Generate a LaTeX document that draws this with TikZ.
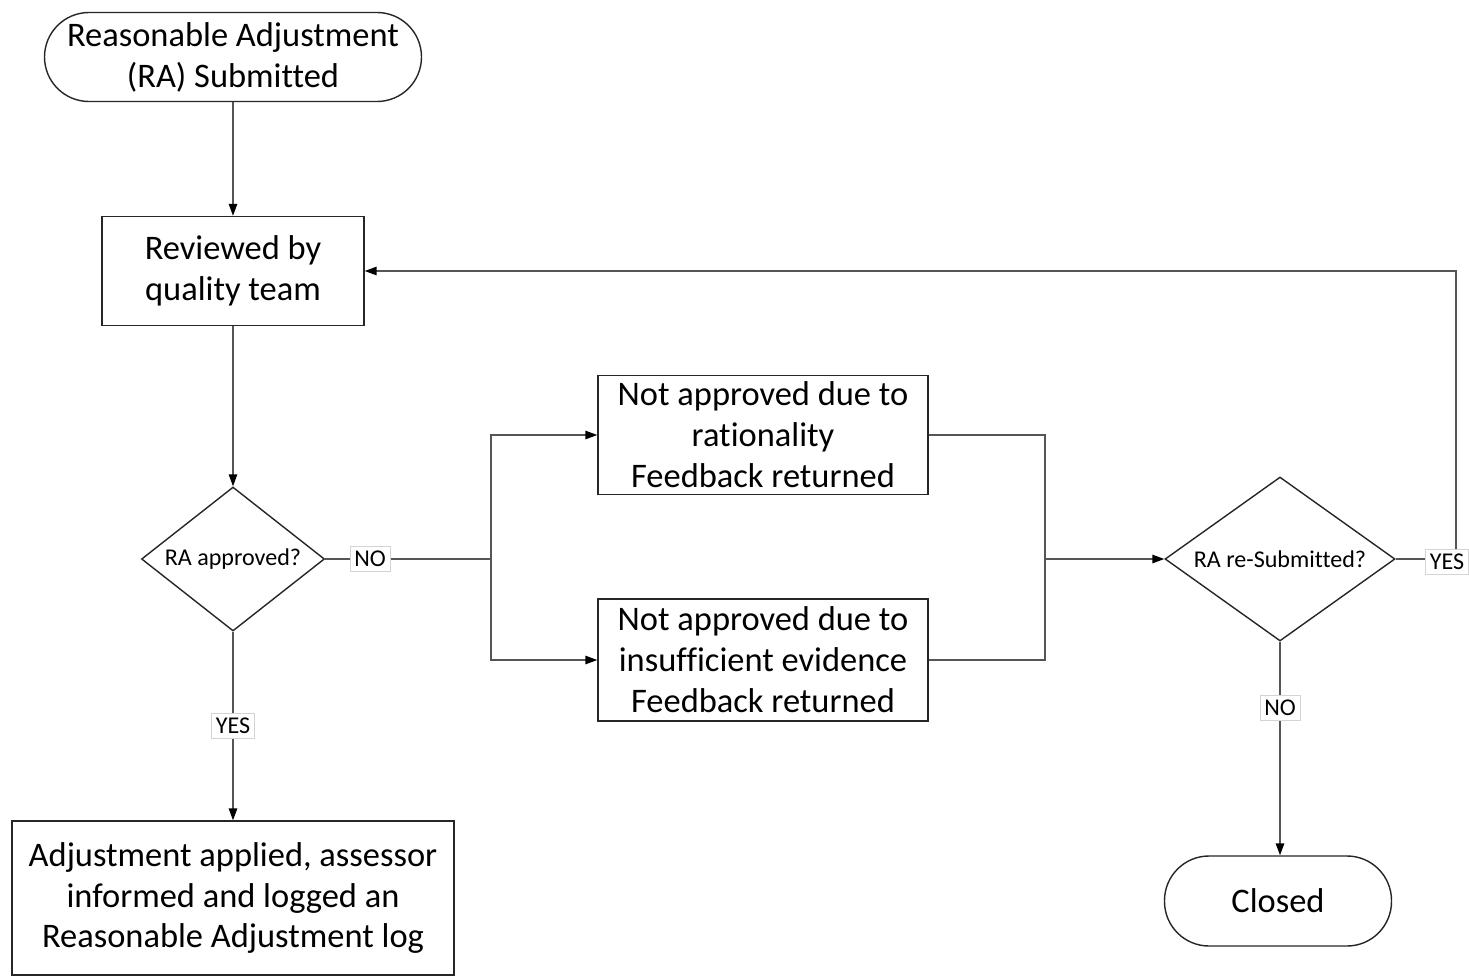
\documentclass[tikz,border=0pt]{standalone}
\usepackage{fontspec}
\setmainfont[Ligatures=NoCommon]{Carlito}
\usepackage{xcolor}
\usepackage{tikz}
\usetikzlibrary{shapes.geometric, arrows.meta}

\definecolor{linegray}{HTML}{555555}
\definecolor{boxgray}{HTML}{D4D4D4}

\begin{document}
\begin{tikzpicture}[
        every node/.style={draw=black!85, line width=0.8pt, inner sep=2pt,
        align=center, font=\fontsize{19.6}{23.3}\selectfont},
        terminal/.style={rectangle, rounded corners=0.89cm},
        process/.style={rectangle},
        decision/.style={diamond, inner sep=0pt, font=\fontsize{13.7}{16}\selectfont},
        tag/.style={draw=boxgray, line width=0.4pt, fill=white, inner sep=2.5pt,
        font=\fontsize{13.7}{16}\selectfont},
        flow/.style={draw=linegray, line width=0.8pt},
        arrow/.style={flow, -{Triangle[length=6.8pt, width=4.8pt, color=black]}}]
        \useasboundingbox (0,0) rectangle (29.38,-19.54);

        \node[terminal, minimum width=7.54cm, minimum height=1.78cm] (start) at (4.66,-1.14)
            {Reasonable Adjustment\\(RA) Submitted};
        \node[process, minimum width=5.24cm, minimum height=2.18cm] (review) at (4.66,-5.42)
            {Reviewed by\\quality team};
        \node[decision, minimum width=3.66cm, minimum height=2.88cm, aspect=1.27] (approved) at (4.66,-11.18)
            {RA approved?};
        \node[process, minimum width=8.84cm, minimum height=3.08cm] (applied) at (4.66,-17.96)
            {Adjustment applied, assessor\\informed and logged an\\Reasonable Adjustment log};
        \node[process, minimum width=6.60cm, minimum height=2.38cm] (rational) at (15.26,-8.70)
            {Not approved due to\\rationality\\Feedback returned};
        \node[process, minimum width=6.60cm, minimum height=2.44cm] (evidence) at (15.26,-13.20)
            {Not approved due to\\insufficient evidence\\Feedback returned};
        \node[decision, minimum width=4.60cm, minimum height=3.28cm, aspect=1.40] (resub) at (25.60,-11.18)
            {RA re-Submitted?};
        \node[terminal, minimum width=4.54cm, minimum height=1.80cm] (closed) at (25.56,-18.02)
            {Closed};

        % junctions
        \coordinate (split) at (9.82,-11.18);
        \coordinate (merge) at (20.90,-11.18);
        \coordinate (loop) at (29.12,-11.18);

        \draw[arrow] (start) -- (review);
        \draw[arrow] (review) -- (approved);
        \draw[arrow] (approved) -- (applied);
        \draw[flow] (approved.east) -- (split);
        \draw[arrow] (split) |- (rational.west);
        \draw[arrow] (split) |- (evidence.west);
        \draw[flow] (rational.east) -| (merge);
        \draw[flow] (evidence.east) -| (merge);
        \draw[arrow] (merge) -- (resub.west);
        \draw[flow] (resub.east) -- (loop);
        \draw[arrow] (loop) |- (review.east);
        \draw[arrow] (resub.south) -- (resub.south |- closed.north);

        \node[tag] (no1) at (7.40,-11.18) {NO};
        \node[tag] (yes1) at (4.66,-14.52) {YES};
        \node[tag] (yes2) at (28.94,-11.24) {YES};
        \node[tag] (no2) at (25.60,-14.16) {NO};
    \end{tikzpicture}
\end{document}
